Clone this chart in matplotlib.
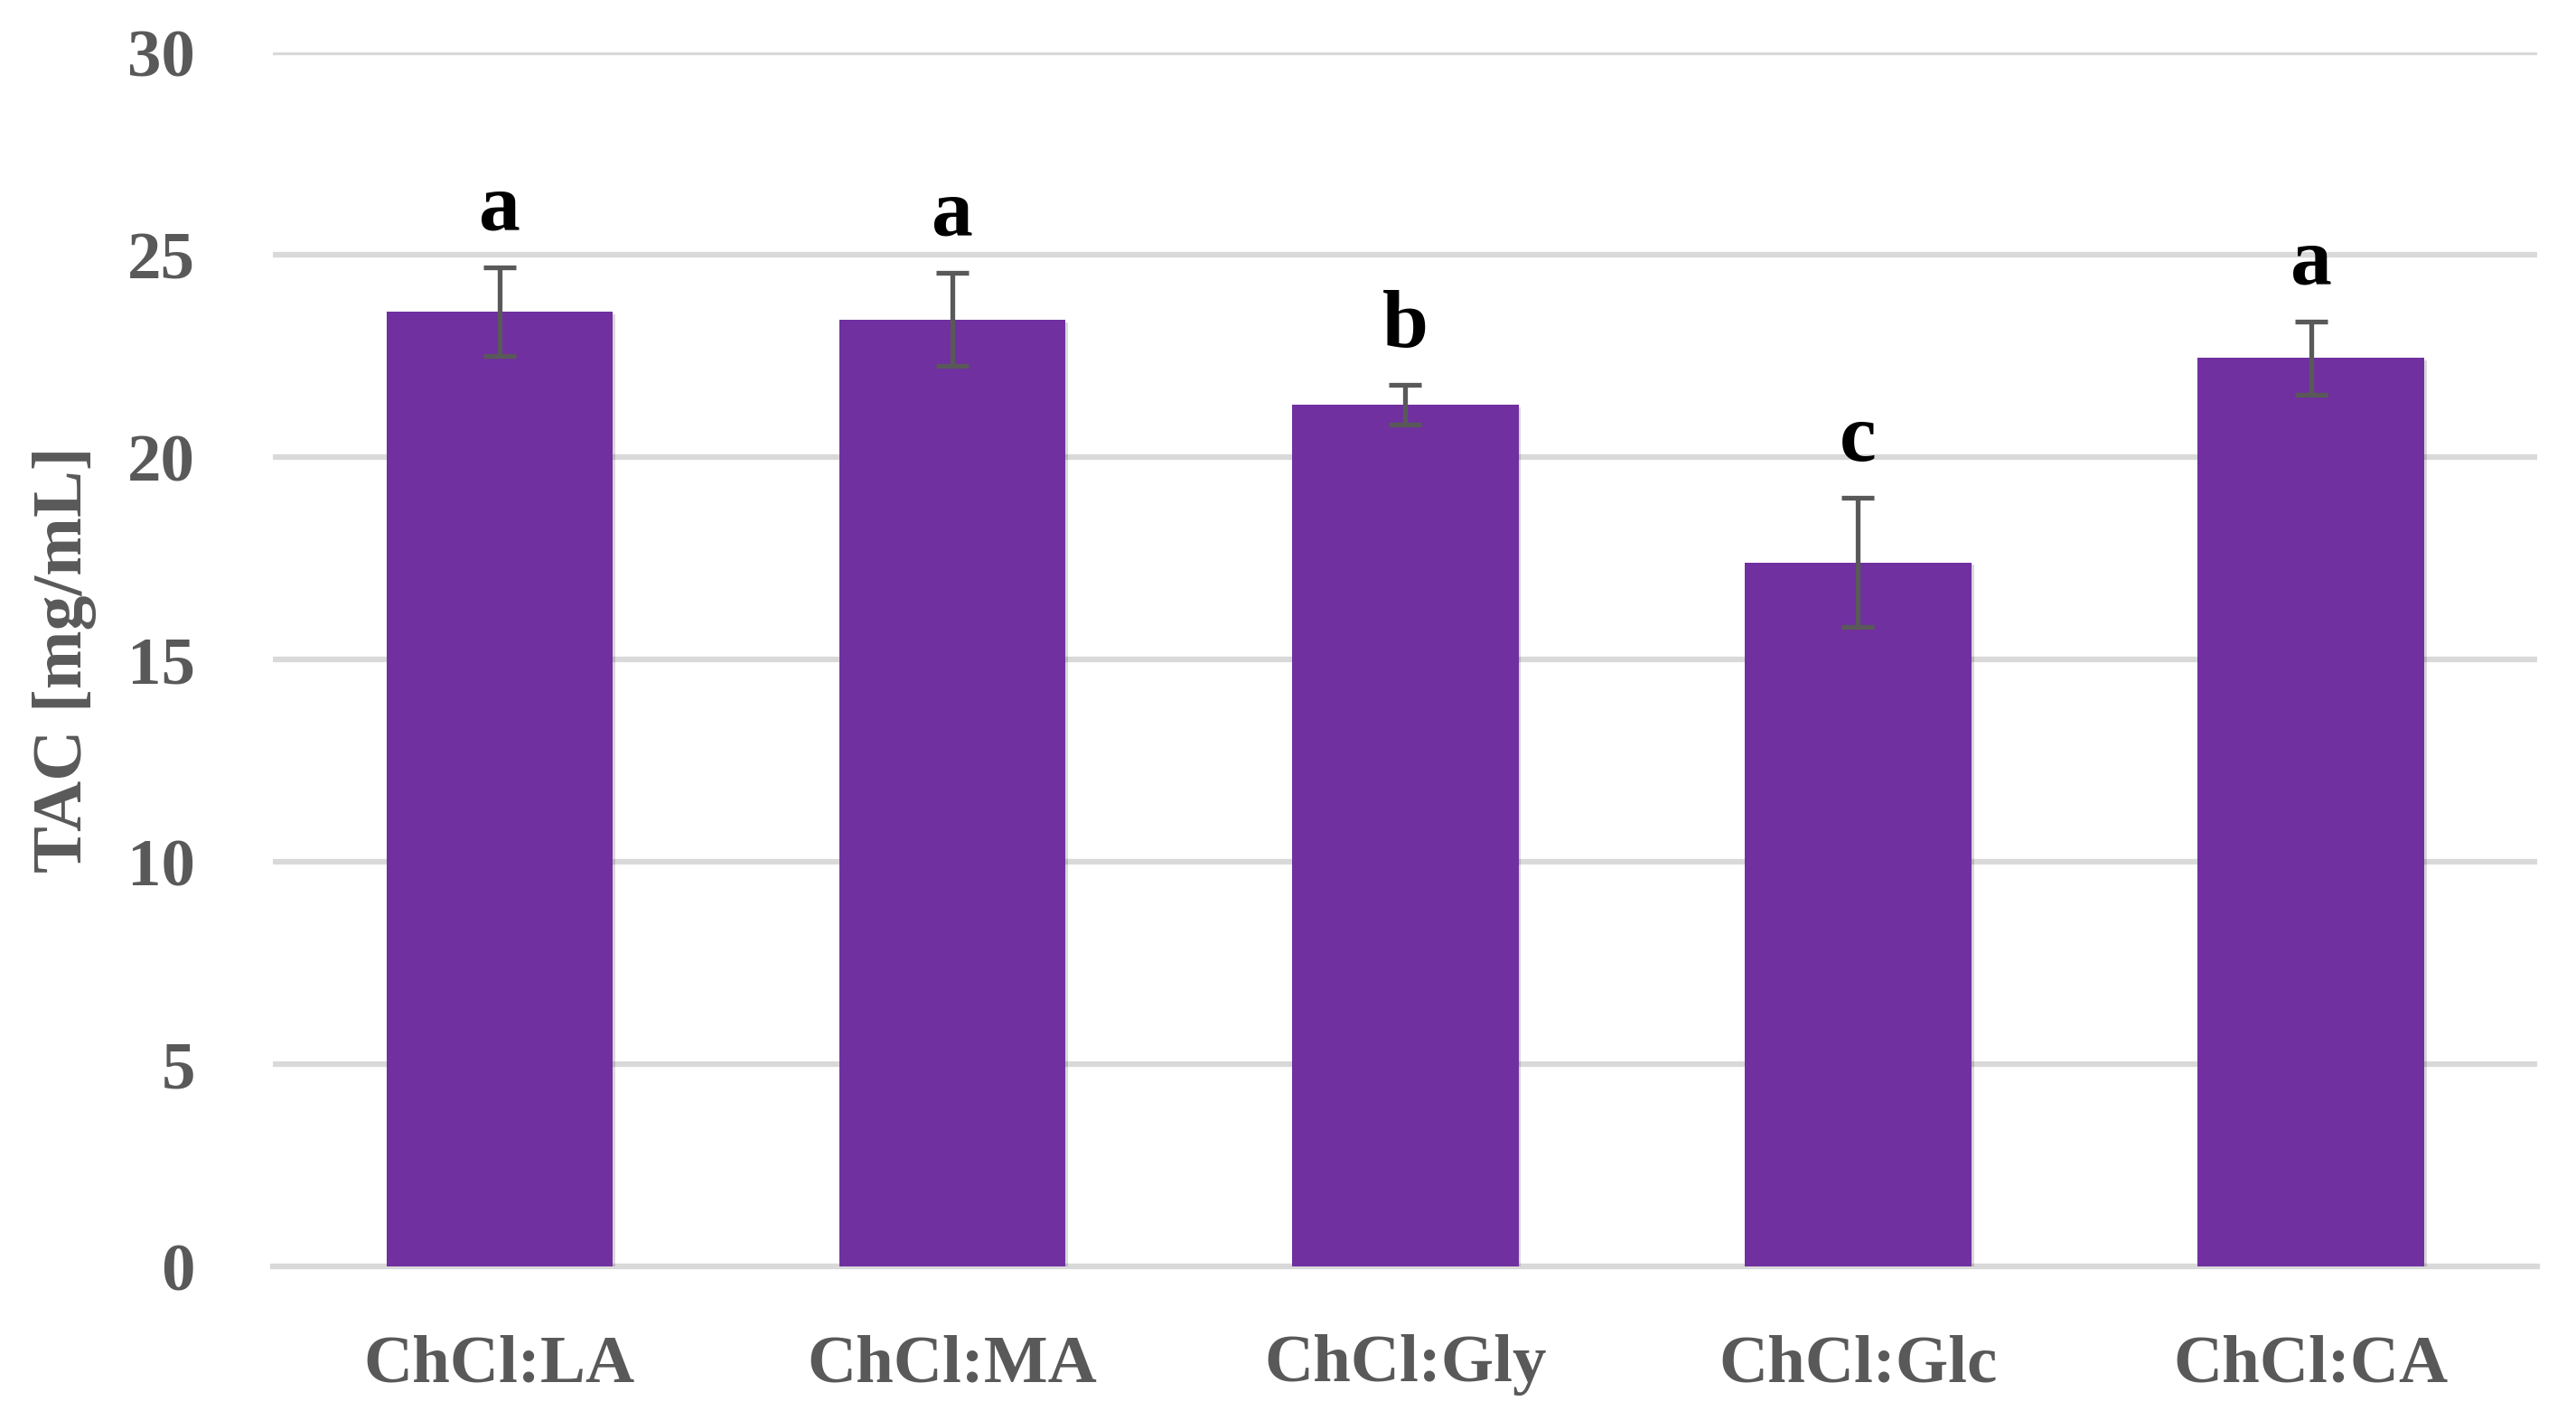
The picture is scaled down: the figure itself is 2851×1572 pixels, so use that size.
import numpy as np
from matplotlib import pyplot as plt
from matplotlib import patheffects as pe

# values
solvents = ["ChCl:LA", "ChCl:MA", "ChCl:Gly", "ChCl:Glc", "ChCl:CA"]
tac = [23.6, 23.4, 21.3, 17.4, 22.45]
tac_err = [1.1, 1.15, 0.5, 1.6, 0.9]
letters = ["a", "a", "b", "c", "a"]

plt.rcParams['font.family'] = ['Liberation Serif', 'DejaVu Serif']

fig = plt.figure(figsize=(28.51, 15.72), dpi=100)
ax = fig.add_axes([0.106, 0.108, 0.879, 0.855])

x = np.arange(len(solvents))
bars = ax.bar(x, tac, width=0.5, color="#7030A0", zorder=3)
for b in bars:
    b.set_path_effects([pe.SimplePatchShadow(offset=(2, -2), shadow_rgbFace="#000000", alpha=0.15), pe.Normal()])

ax.errorbar(x, tac, yerr=tac_err, fmt="none", ecolor="#595959", elinewidth=3.8,
            capsize=13, capthick=3.8, zorder=4)

# significance letters above the error bars
for xi, v, e, lab in zip(x, tac, tac_err, letters):
    ax.text(xi, v + e + 0.5, lab, ha="center", va="bottom", fontsize=66,
            fontweight="bold", color="black", zorder=5)

ax.set_xlim(-0.5, len(solvents) - 0.5)
ax.set_ylim(0, 30)
ax.set_yticks(range(0, 31, 5))
ax.set_xticks(x)
ax.set_xticklabels(solvents)

ax.grid(axis="y", color="#d9d9d9", linewidth=4.5, zorder=0)
ax.set_axisbelow(True)
for s in ["top", "right", "left"]:
    ax.spines[s].set_visible(False)
ax.spines["bottom"].set_color("#d9d9d9")
ax.spines["bottom"].set_linewidth(4.5)
ax.spines["bottom"].set_zorder(2)

ax.tick_params(axis="both", length=0, labelcolor="#595959", labelsize=54)
ax.tick_params(axis="y", pad=62)
ax.tick_params(axis="x", pad=54)
for t in ax.get_xticklabels() + ax.get_yticklabels():
    t.set_fontweight("bold")

ax.set_ylabel("TAC [mg/mL]", fontsize=56, fontweight="bold", color="#595959")
ax.yaxis.set_label_coords(-0.078, 0.5)

fig.savefig("out.png", dpi=100)
